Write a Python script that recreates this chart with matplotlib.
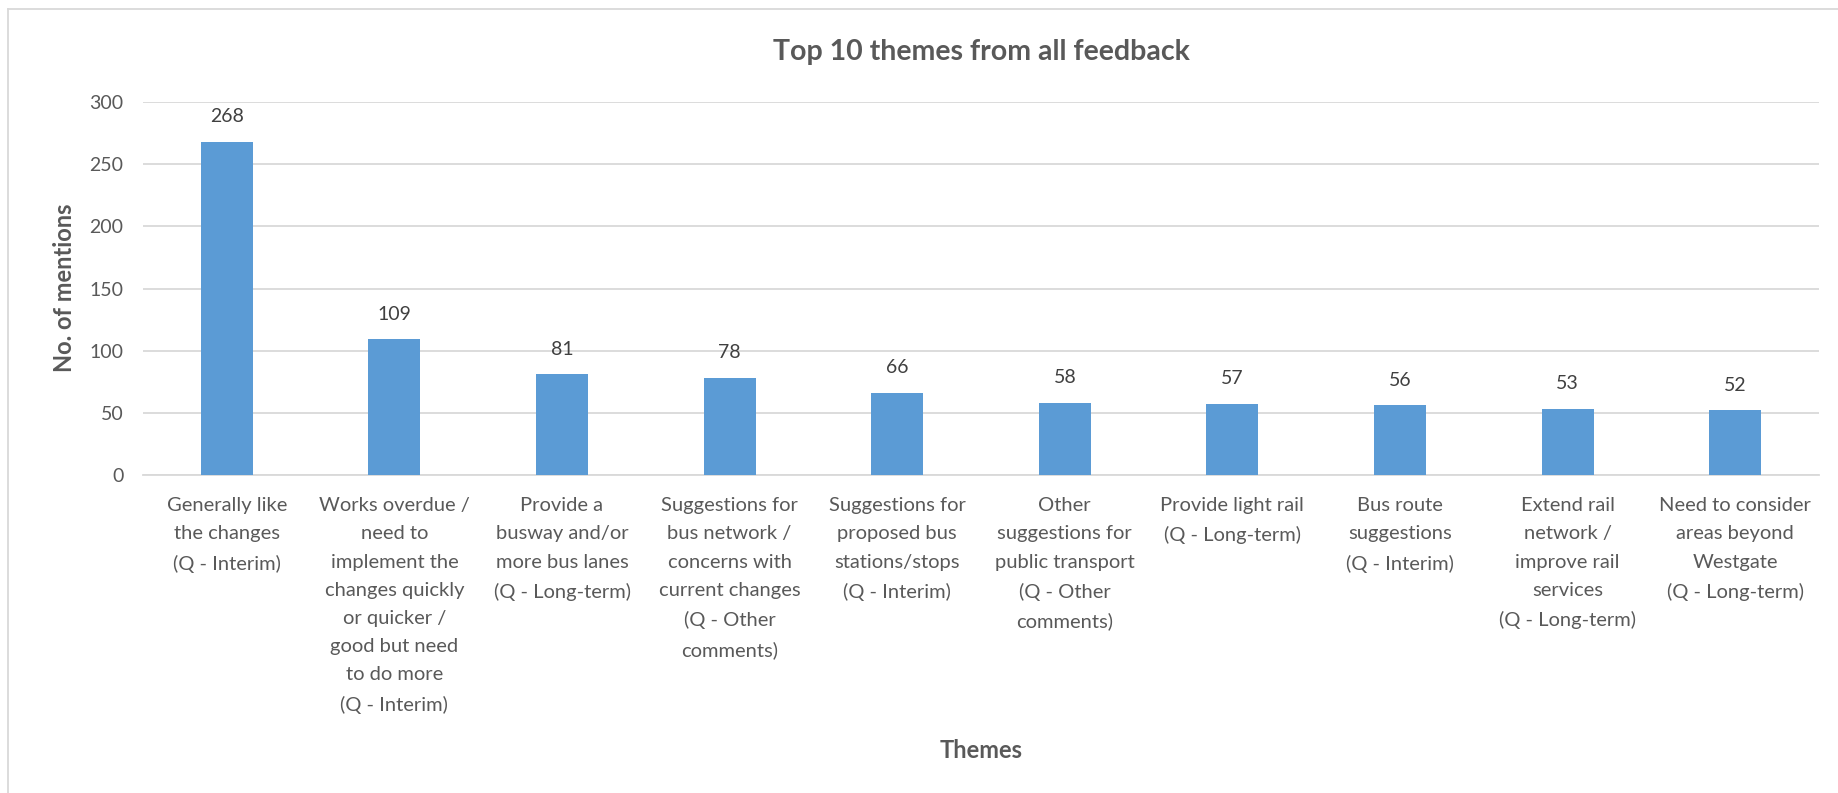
import matplotlib
matplotlib.use("Agg")
import matplotlib.pyplot as plt
from matplotlib.lines import Line2D

categories = [
    "Generally like\nthe changes\n(Q - Interim)",
    "Works overdue /\nneed to\nimplement the\nchanges quickly\nor quicker /\ngood but need\nto do more\n(Q - Interim)",
    "Provide a\nbusway and/or\nmore bus lanes\n(Q - Long-term)",
    "Suggestions for\nbus network /\nconcerns with\ncurrent changes\n(Q - Other\ncomments)",
    "Suggestions for\nproposed bus\nstations/stops\n(Q - Interim)",
    "Other\nsuggestions for\npublic transport\n(Q - Other\ncomments)",
    "Provide light rail\n(Q - Long-term)",
    "Bus route\nsuggestions\n(Q - Interim)",
    "Extend rail\nnetwork /\nimprove rail\nservices\n(Q - Long-term)",
    "Need to consider\nareas beyond\nWestgate\n(Q - Long-term)",
]
values = [268, 109, 81, 78, 66, 58, 57, 56, 53, 52]
yticks = [0, 50, 100, 150, 200, 250, 300]

W, H = 1838, 793
fig = plt.figure(figsize=(W / 100, H / 100), dpi=100)
font = "Lato"
txt = "#595959"

ax = fig.add_axes([143 / W, 1 - 475 / H, (1819 - 143) / W, (475 - 102) / H])
x = list(range(len(values)))
ax.bar(x, values, width=0.31, color="#5B9BD5", zorder=3)
ax.set_xlim(-0.5, len(values) - 0.5)
ax.set_ylim(0, 300)
ax.set_yticks(yticks)
ax.set_yticklabels([str(v) for v in yticks], fontsize=14, color=txt, family=font)
ax.set_xticks(x)
ax.set_xticklabels(categories, fontsize=14.5, color=txt, family=font, va="top",
                   linespacing=1.8)
ax.tick_params(axis="both", length=0)
ax.tick_params(axis="x", pad=16)
ax.tick_params(axis="y", pad=14)
ax.grid(axis="y", color="#d9d9d9", linewidth=1.3, zorder=0)
for s in ["top", "right", "left"]:
    ax.spines[s].set_visible(False)
ax.spines["bottom"].set_color("#d9d9d9")
ax.spines["bottom"].set_linewidth(1.3)

for xi, v in zip(x, values):
    ax.annotate(str(v), (xi, v), xytext=(0, 12), textcoords="offset points",
                ha="center", va="bottom", fontsize=14, color="#404040", family=font)

fig.text(981 / W, 1 - 52 / H, "Top 10 themes from all feedback", ha="center", va="center",
         fontsize=20.5, fontweight="bold", color=txt, family=font)
fig.text(64 / W, 1 - 288 / H, "No. of mentions", ha="center", va="center", rotation=90,
         fontsize=17, fontweight="bold", color=txt, family=font)
fig.text(981 / W, 1 - 750 / H, "Themes", ha="center", va="center",
         fontsize=17, fontweight="bold", color=txt, family=font)

fig.add_artist(Line2D([8 / W, 8 / W], [0, 1 - 9 / H], transform=fig.transFigure,
                      color="#d9d9d9", linewidth=1.3))
fig.add_artist(Line2D([8 / W, 1], [1 - 9 / H, 1 - 9 / H], transform=fig.transFigure,
                      color="#d9d9d9", linewidth=1.3))

fig.savefig("out.png", dpi=100)
